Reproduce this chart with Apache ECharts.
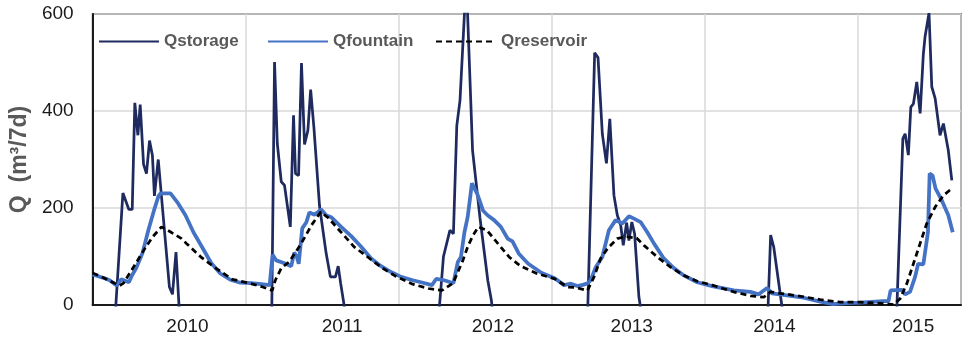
<!DOCTYPE html>
<html><head><meta charset="utf-8">
<script src="https://cdn.jsdelivr.net/npm/echarts@6/dist/echarts.min.js"></script>
<style>html,body{margin:0;padding:0;background:#fff}#c{width:962px;height:340px}</style>
</head><body><div id="c"></div>
<script>
// x values: years since the start of the record (a gridline each year)
const yearLabels = ['2010','2011','2012','2013','2014','2015'];
const yearLabelPos = [0.620, 1.631, 2.616, 3.523, 4.455, 5.362];
const xMax = 5.675;

const storageT = [0,0.150,0.198,0.237,0.259,0.276,0.296,0.311,0.333,0.352,0.372,0.391,0.404,0.429,0.502,0.522,0.545,0.568,0.587,
  1.155,1.171,1.189,1.207,1.233,1.254,1.292,1.313,1.326,1.346,1.365,1.385,1.407,1.425,1.446,1.483,1.526,1.554,1.587,1.605,1.621,1.646,1.663,
  2.250,2.266,2.293,2.335,2.358,2.380,2.401,2.442,2.483,2.531,2.583,2.606,2.622,
  3.222,3.236,3.281,3.303,3.331,3.358,3.380,3.407,3.429,3.451,3.468,3.490,3.505,3.524,3.542,3.570,3.588,3.607,
  4.397,4.414,4.431,4.451,4.506,4.521,
  5.238,5.256,5.295,5.310,5.331,5.347,5.364,5.386,5.408,5.429,5.440,5.466,5.484,5.506,5.538,5.560,5.592,5.615];
const storageQ = [-60,-10,231,197,197,417,350,413,290,271,339,308,225,300,37,22,109,-20,-60,
  -60,-10,501,333,254,247,161,391,271,267,499,331,360,444,367,204,107,58,58,80,45,-5,-60,
  -60,-5,100,154,147,370,422,674,319,181,50,10,-40,
  -60,-5,520,510,353,292,384,226,185,165,123,170,133,171,147,17,-20,-60,
  -60,-5,144,120,-5,-60,
  -60,-5,343,353,309,408,415,460,395,518,553,602,450,426,350,374,319,257];

const fountainT = [0,0.013,0.078,0.111,0.157,0.187,0.237,0.259,0.285,0.326,
  0.365,0.404,0.431,0.444,0.509,0.558,0.607,0.659,0.714,0.776,
  0.835,0.900,0.965,1.037,1.102,1.157,1.176,1.200,1.254,1.298,
  1.318,1.334,1.347,1.370,1.396,1.417,1.450,1.494,1.526,1.559,
  1.624,1.690,1.755,1.820,1.885,1.950,2.016,2.092,2.146,2.218,
  2.246,2.298,2.358,2.386,2.407,2.430,2.451,2.479,2.515,2.551,
  2.581,2.624,2.668,2.712,2.744,2.787,2.847,2.935,3.020,3.081,
  3.125,3.168,3.209,3.236,3.255,3.288,3.331,3.374,3.418,3.462,
  3.505,3.538,3.581,3.625,3.668,3.733,3.798,3.864,3.951,4.049,
  4.190,4.299,4.353,4.408,4.440,4.538,4.646,4.755,4.832,4.930,
  5.016,5.168,5.201,5.215,5.290,5.310,5.342,5.375,5.395,5.429,
  5.459,5.470,5.489,5.509,5.549,5.592,5.621];
const fountainQ = [63,61,55,51,40,53,47,62,76,107,
  155,198,225,230,230,210,185,150,120,86,
  65,52,46,45,43,41,104,92,86,80,
  108,100,85,158,170,191,186,197,185,181,
  161,142,120,96,80,68,58,51,47,41,
  54,51,45,88,99,150,181,251,228,195,
  185,175,161,137,131,105,85,66,55,41,
  44,39,42,45,51,78,99,154,175,168,
  183,178,171,150,127,96,76,61,47,39,
  30,27,22,35,24,20,15,7,2,4,
  5,8,8,30,31,22,27,58,85,84,
  150,271,267,240,216,185,150];

const reservoirT = [0,0.059,0.124,0.176,0.202,0.241,0.287,0.326,0.391,0.450,
  0.502,0.581,0.613,0.711,0.809,0.913,1.024,1.102,1.174,1.194,
  1.233,1.285,1.350,1.396,1.429,1.491,1.539,1.624,1.709,1.798,
  1.885,1.977,2.092,2.195,2.283,2.355,2.420,2.451,2.485,2.521,
  2.577,2.648,2.722,2.798,2.903,3.020,3.103,3.157,3.234,3.277,
  3.320,3.369,3.429,3.483,3.555,3.603,3.690,3.777,3.864,3.951,
  4.049,4.190,4.299,4.386,4.429,4.538,4.646,4.755,4.886,5.016,
  5.168,5.234,5.277,5.321,5.364,5.408,5.451,5.506,5.560,5.603];
const reservoirQ = [66,58,48,40,45,65,88,109,140,161,
  152,137,127,98,75,53,45,38,30,51,
  76,89,120,145,164,192,180,150,120,99,
  78,60,43,34,30,45,92,120,143,161,
  154,127,99,80,65,54,37,36,30,58,
  96,118,137,141,138,123,99,78,61,49,
  41,27,19,16,27,22,17,11,6,6,
  3,1,13,44,85,127,168,202,226,237];

const zip = (a, b) => a.map((v, i) => [v, b[i]]);
const FONT = '"Liberation Sans", Arial, sans-serif';

const chart = echarts.init(document.getElementById('c'), null, {renderer: 'canvas'});
const legendBase = {
  top: 33, itemWidth: 60, itemHeight: 14, itemGap: 10, padding: 0,
  itemStyle: {opacity: 0},
  textStyle: {fontFamily: FONT, fontSize: 17, fontWeight: 'bold', color: '#595959'}
};
chart.setOption({
  animation: false,
  backgroundColor: '#ffffff',
  grid: {left: 91, right: 1, top: 14, bottom: 35, show: true, borderColor: '#1a1a1a', borderWidth: 1.5},
  legend: [
    Object.assign({}, legendBase, {left: 98, data: ['Qstorage']}),
    Object.assign({}, legendBase, {left: 267, data: ['Qfountain']}),
    Object.assign({}, legendBase, {left: 435, data: ['Qreservoir']})
  ],
  xAxis: {
    type: 'value', min: 0, max: xMax, interval: 1,
    axisLine: {show: true, lineStyle: {color: '#1a1a1a', width: 2}},
    axisTick: {show: false},
    splitLine: {show: true, lineStyle: {color: '#d9d9d9', width: 1.5}},
    axisLabel: {
      customValues: yearLabelPos,
      margin: 12, fontFamily: FONT, fontSize: 19, color: '#1a1a1a',
      formatter: function (v) {
        let best = 0;
        for (let i = 1; i < yearLabelPos.length; i++) {
          if (Math.abs(yearLabelPos[i] - v) < Math.abs(yearLabelPos[best] - v)) best = i;
        }
        return yearLabels[best];
      }
    }
  },
  yAxis: {
    type: 'value', min: 0, max: 600, interval: 200,
    name: 'Q  (m³/7d)', nameLocation: 'middle', nameRotate: 90, nameGap: 58,
    nameTextStyle: {fontFamily: FONT, fontSize: 23, fontWeight: 'bold', color: '#595959'},
    axisLine: {show: true, lineStyle: {color: '#1a1a1a', width: 2}},
    axisTick: {show: false},
    splitLine: {show: true, lineStyle: {color: '#d9d9d9', width: 1.5}},
    axisLabel: {margin: 19, fontFamily: FONT, fontSize: 19, color: '#1a1a1a'}
  },
  series: [
    {name: 'Qstorage', type: 'line', data: zip(storageT, storageQ), symbol: 'none', showSymbol: false,
     clip: true, lineStyle: {color: '#1f2b5e', width: 2.75}, itemStyle: {color: '#1f2b5e'}},
    {name: 'Qfountain', type: 'line', data: zip(fountainT, fountainQ), symbol: 'none', showSymbol: false,
     clip: true, lineStyle: {color: '#4472c4', width: 3.75}, itemStyle: {color: '#4472c4'}},
    {name: 'Qreservoir', type: 'line', data: zip(reservoirT, reservoirQ), symbol: 'none', showSymbol: false,
     clip: true, lineStyle: {color: '#000000', width: 2.75, type: [6, 4]}, itemStyle: {color: '#000000'}}
  ]
});
</script>
</body></html>
